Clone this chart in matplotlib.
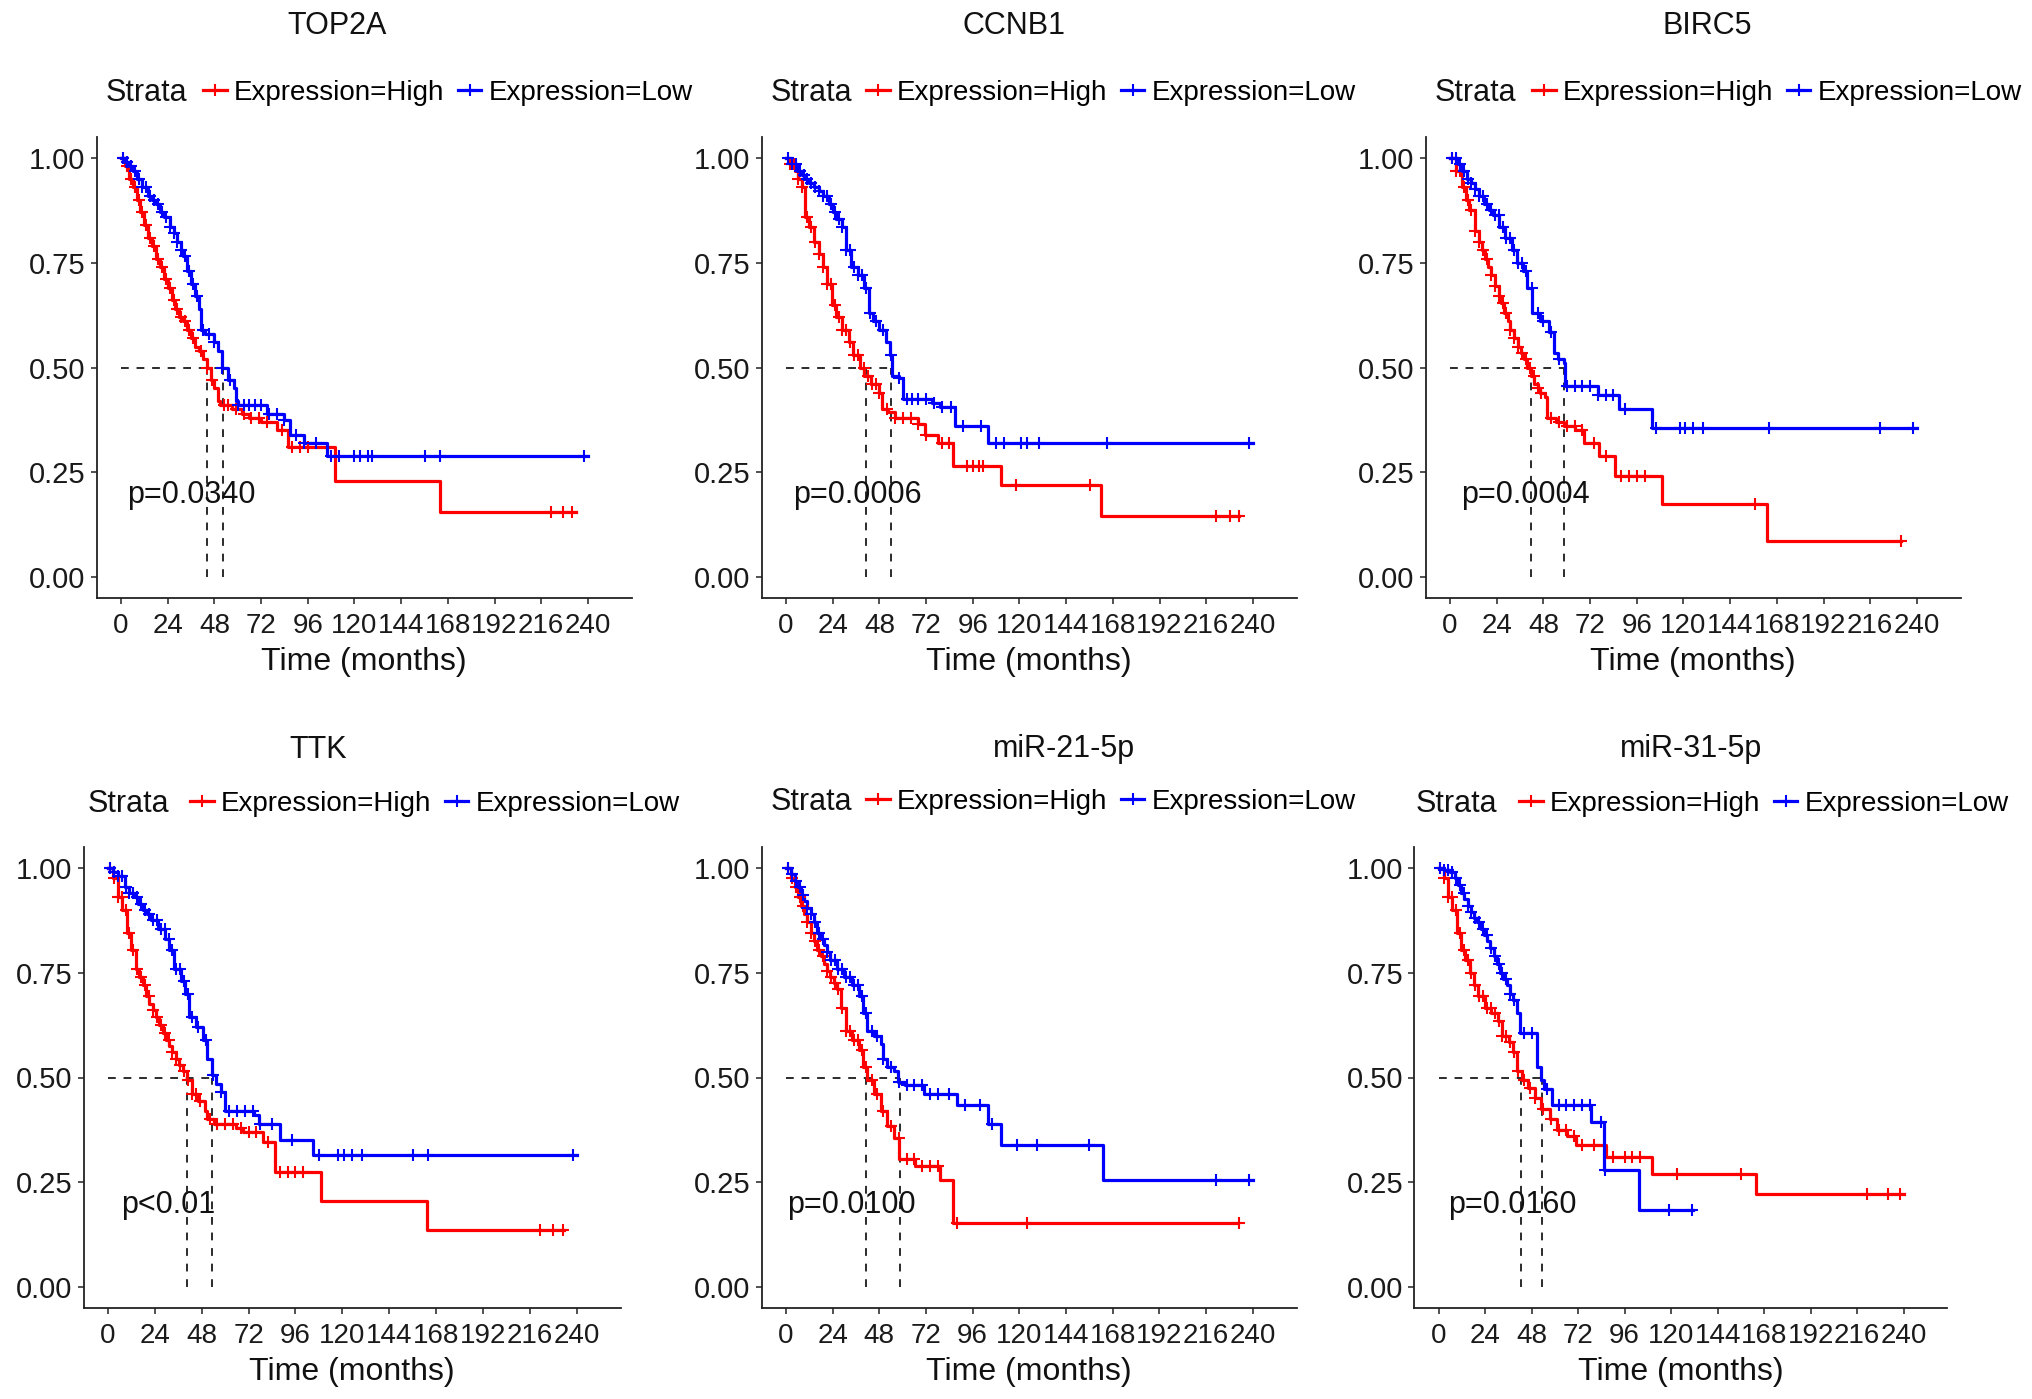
import numpy as np
import matplotlib
matplotlib.use("Agg")
import matplotlib.pyplot as plt
from matplotlib.lines import Line2D

plt.rcParams["font.family"] = ["Liberation Sans", "DejaVu Sans"]

W, H = 2032, 1399
RED = "#FF0000"
BLUE = "#0000FF"
DASH = "#2b2b2b"

# ---------------------------------------------------------------------------
# data
# ---------------------------------------------------------------------------
GENES = ["TOP2A", "CCNB1", "BIRC5", "TTK", "miR-21-5p", "miR-31-5p"]
P_TEXT = ["p=0.0340", "p=0.0006", "p=0.0004", "p<0.01", "p=0.0100", "p=0.0160"]
P_X = [3.0, 3.8, 5.8, 6.6, 0.4, 4.9]          # months, left edge of p label
MEDIAN_HIGH = [44.3, 41.3, 41.4, 40.6, 41.3, 42.5]
MEDIAN_LOW = [52.3, 54.0, 58.4, 53.4, 58.8, 53.3]
X_TICKS = list(range(0, 241, 24))
Y_TICKS = [0.0, 0.25, 0.5, 0.75, 1.0]
Y_TICKLABELS = ["0.00", "0.25", "0.50", "0.75", "1.00"]
LEGEND_LABELS = ["Expression=High", "Expression=Low"]

# TOP2A
TOP2A_HIGH_T = [0, 2, 4, 6, 8, 10, 12, 14, 16, 18, 20, 22, 24, 26, 28, 30, 32, 34, 36, 38,
                40, 42, 44, 46, 48, 50, 51, 57, 62, 66, 72, 80, 86, 110, 164, 234]
TOP2A_HIGH_S = [1.0, 0.98, 0.95, 0.93, 0.90, 0.87, 0.84, 0.81, 0.79, 0.76, 0.74, 0.71, 0.69,
                0.66, 0.64, 0.62, 0.61, 0.59, 0.57, 0.55, 0.54, 0.52, 0.50, 0.47, 0.45, 0.42,
                0.41, 0.40, 0.39, 0.38, 0.37, 0.35, 0.31, 0.23, 0.155, 0.155]
TOP2A_HIGH_CENS = [1, 3, 5, 7, 9, 11, 13, 15, 17, 19, 21, 23, 25, 27, 29, 31, 33, 35, 37, 41,
                   44, 47, 53, 55, 59, 63, 67, 71, 75, 83, 88, 92, 96, 221, 227, 232]
TOP2A_LOW_T = [0, 2, 4, 6, 8, 11, 14, 16, 18, 20, 22, 25, 27, 29, 31, 32, 34, 36, 38, 40, 41,
               43, 48, 50, 52, 55, 58, 59, 60, 75, 84, 87, 94, 106, 240]
TOP2A_LOW_S = [1.0, 0.99, 0.98, 0.97, 0.95, 0.93, 0.91, 0.90, 0.89, 0.87, 0.86, 0.835, 0.82,
               0.80, 0.78, 0.765, 0.73, 0.70, 0.67, 0.64, 0.59, 0.58, 0.56, 0.54, 0.50, 0.47,
               0.45, 0.42, 0.41, 0.39, 0.375, 0.34, 0.32, 0.29, 0.29]
TOP2A_LOW_CENS = [1, 3, 5, 7, 9, 11, 13, 15, 17, 19, 21, 23, 25, 27, 29, 31, 33, 35, 37, 39,
                  42, 45, 48, 52, 56, 60, 63, 66, 69, 72, 76, 80, 84, 90, 94, 100, 108, 112,
                  120, 123, 127, 129, 156, 164, 238]

# CCNB1
CCNB1_HIGH_T = [0, 2, 4.5, 6, 8, 10, 12, 14.5, 16.7, 19, 21, 23.4, 25.7, 29, 32.4, 34.6, 38,
                40.2, 43.5, 48, 49.1, 52.5, 55.8, 68, 71.4, 78, 86, 110.5, 162, 233]
CCNB1_HIGH_S = [1.0, 0.985, 0.97, 0.95, 0.93, 0.86, 0.835, 0.80, 0.77, 0.74, 0.70, 0.65, 0.62,
                0.59, 0.56, 0.53, 0.50, 0.48, 0.46, 0.44, 0.40, 0.395, 0.38, 0.365, 0.34, 0.32,
                0.265, 0.22, 0.145, 0.145]
CCNB1_HIGH_CENS = [2, 4, 6, 8, 11, 13, 15, 17, 19, 21, 23, 25, 27, 29, 31, 33, 35, 37, 40, 42,
                   44, 46, 48, 52, 56, 60, 64, 68, 72, 80, 84, 93, 96, 99, 101, 118, 156, 221,
                   228, 233]
CCNB1_LOW_T = [0, 3, 5.6, 8, 10, 12, 14.5, 17, 19, 22, 24, 25.7, 29, 31, 33.5, 36.8, 40, 42.4,
               44.7, 48, 51.4, 53.6, 54.7, 58, 60.3, 75, 79, 87, 104, 240]
CCNB1_LOW_S = [1.0, 0.985, 0.97, 0.96, 0.95, 0.94, 0.93, 0.92, 0.91, 0.89, 0.87, 0.855, 0.835,
               0.78, 0.74, 0.72, 0.69, 0.63, 0.61, 0.59, 0.56, 0.53, 0.48, 0.475, 0.425, 0.415,
               0.405, 0.36, 0.32, 0.32]
CCNB1_LOW_CENS = [1, 3, 5, 7, 9, 11, 13, 15, 17, 19, 21, 23, 25, 27, 29, 31, 33, 35, 37, 39,
                  41, 43, 46, 50, 54, 58, 62, 65, 68, 72, 76, 80, 85, 91, 100, 108, 112, 121,
                  124, 130, 165, 238]

# BIRC5
BIRC5_HIGH_T = [0, 3, 6, 8, 10, 13, 15, 16.3, 18, 19.7, 21, 23, 25, 26.4, 28, 29.7, 31, 33, 35,
                36.5, 38, 39.8, 41.5, 43.2, 45, 46.5, 48.8, 49.9, 54.4, 58.8, 64.4, 68.9, 76.7,
                84.6, 109.2, 162.9, 232]
BIRC5_HIGH_S = [1.0, 0.97, 0.93, 0.90, 0.875, 0.825, 0.80, 0.78, 0.76, 0.74, 0.72, 0.695, 0.67,
                0.655, 0.63, 0.61, 0.59, 0.57, 0.55, 0.535, 0.52, 0.50, 0.48, 0.46, 0.45, 0.44,
                0.43, 0.38, 0.37, 0.36, 0.35, 0.32, 0.29, 0.24, 0.175, 0.086, 0.086]
BIRC5_HIGH_CENS = [1, 3, 5, 7, 9, 11, 13, 15, 17, 19, 21, 23, 25, 27, 29, 31, 33, 35, 37, 39,
                   41, 43, 45, 47, 52, 56, 60, 64, 68, 74, 80, 88, 92, 96, 100, 157, 232]
BIRC5_LOW_T = [0, 4, 6, 8.5, 11, 13, 15, 17.4, 20, 21.9, 25.3, 28.2, 32, 34.2, 37.6, 39.8, 42.1,
               46.5, 51, 53.3, 55.5, 58.4, 58.9, 76, 87, 104, 240]
BIRC5_LOW_S = [1.0, 0.985, 0.97, 0.95, 0.94, 0.925, 0.91, 0.89, 0.875, 0.865, 0.835, 0.81, 0.78,
               0.75, 0.73, 0.69, 0.63, 0.61, 0.585, 0.535, 0.52, 0.51, 0.455, 0.435, 0.40, 0.355,
               0.355]
BIRC5_LOW_CENS = [1, 3, 5, 7, 9, 11, 13, 15, 17, 19, 21, 23, 25, 27, 29, 31, 33, 35, 37, 39,
                  42, 45, 48, 52, 56, 60, 64, 68, 72, 76, 80, 84, 90, 106, 118, 121, 125, 130,
                  164, 221, 238]

# TTK
TTK_HIGH_T = [0, 2.8, 5, 7.3, 9.6, 11.9, 14.2, 16, 17.7, 19.5, 21.1, 23, 24.5, 26, 28, 29.5,
              31.4, 33, 34.8, 36.5, 38.3, 40.6, 42.9, 46.3, 49.7, 50.9, 54.3, 65.8, 69.2, 79.5,
              85.3, 109.3, 163.2, 233.6]
TTK_HIGH_S = [1.0, 0.975, 0.93, 0.90, 0.845, 0.805, 0.76, 0.74, 0.72, 0.695, 0.675, 0.66, 0.645,
              0.625, 0.605, 0.59, 0.575, 0.56, 0.545, 0.53, 0.515, 0.495, 0.46, 0.445, 0.42,
              0.40, 0.39, 0.38, 0.37, 0.345, 0.275, 0.205, 0.137, 0.137]
TTK_HIGH_CENS = [1, 3, 5, 7, 9, 11, 13, 15, 17, 19, 21, 23, 25, 27, 29, 31, 33, 35, 37, 39, 41,
                 43, 45, 47, 52, 56, 60, 64, 68, 72, 76, 82, 88, 92, 96, 100, 221, 228, 233]
TTK_LOW_T = [0, 2.5, 5, 8.5, 11, 13.1, 15.5, 17.7, 20, 22.2, 25.7, 29.1, 31.4, 33.7, 37.2, 39.4,
             41.7, 45.2, 48.6, 50.9, 53.2, 55.5, 57.8, 60.1, 75, 77.4, 88.3, 104.8, 240]
TTK_LOW_S = [1.0, 0.99, 0.98, 0.955, 0.94, 0.93, 0.915, 0.90, 0.89, 0.875, 0.855, 0.83, 0.805,
             0.76, 0.73, 0.70, 0.645, 0.62, 0.59, 0.545, 0.505, 0.485, 0.465, 0.42, 0.41, 0.39,
             0.35, 0.315, 0.315]
TTK_LOW_CENS = [1, 3, 5, 7, 9, 11, 13, 15, 17, 19, 21, 23, 25, 27, 29, 31, 33, 35, 37, 39, 41,
                43, 46, 50, 54, 58, 62, 66, 70, 74, 78, 84, 94, 108, 118, 121, 125, 130, 156,
                164, 238]

# miR-21-5p
MIR21_HIGH_T = [0, 2.7, 4.5, 6.1, 8, 9.4, 11, 12.8, 14.5, 16.2, 18, 19.5, 21, 22.9, 24.5, 26.2,
                28.5, 30.7, 34.1, 37.5, 39.7, 41.9, 45.3, 48.7, 52, 55.4, 58.3, 66.6, 79, 85.7,
                232.5]
MIR21_HIGH_S = [1.0, 0.975, 0.955, 0.93, 0.91, 0.89, 0.87, 0.845, 0.825, 0.805, 0.79, 0.77,
                0.755, 0.74, 0.725, 0.71, 0.665, 0.61, 0.59, 0.565, 0.525, 0.495, 0.46, 0.42,
                0.385, 0.355, 0.305, 0.29, 0.255, 0.153, 0.153]
MIR21_HIGH_CENS = [1, 3, 5, 7, 9, 11, 13, 15, 17, 19, 21, 23, 25, 27, 29, 31, 33, 35, 37, 39,
                   41, 44, 47, 50, 54, 58, 62, 66, 70, 74, 78, 88, 124, 233]
MIR21_LOW_T = [0, 2.7, 4.5, 6.1, 8, 9.4, 11, 12.8, 14.5, 16.2, 18, 19.5, 21, 22.9, 26.2, 29.6,
               34.1, 37.5, 39.7, 41.9, 45.3, 48.7, 49.8, 52, 55.4, 57.7, 61, 71.1, 87.9, 104.1,
               110.4, 163.1, 240]
MIR21_LOW_S = [1.0, 0.985, 0.97, 0.955, 0.935, 0.92, 0.905, 0.89, 0.87, 0.845, 0.83, 0.815,
               0.80, 0.78, 0.76, 0.74, 0.72, 0.695, 0.655, 0.61, 0.60, 0.58, 0.545, 0.525, 0.515,
               0.49, 0.483, 0.46, 0.435, 0.39, 0.34, 0.255, 0.255]
MIR21_LOW_CENS = [1, 3, 5, 7, 9, 11, 13, 15, 17, 19, 21, 23, 25, 27, 29, 31, 33, 35, 37, 39,
                  41, 44, 47, 50, 54, 58, 62, 66, 70, 74, 78, 84, 92, 100, 106, 119, 129, 156,
                  221, 238]

# miR-31-5p
MIR31_HIGH_T = [0, 2.7, 4.9, 7.2, 9.4, 11.6, 13.9, 16.1, 18.4, 20.6, 24, 27.3, 30.7, 32.9, 36.3,
                38.5, 40.7, 43, 46.3, 49.7, 53.1, 57.5, 60.9, 66.5, 71, 86.6, 110.1, 163.9, 240]
MIR31_HIGH_S = [1.0, 0.975, 0.93, 0.90, 0.845, 0.805, 0.78, 0.75, 0.72, 0.695, 0.665, 0.655,
                0.635, 0.60, 0.585, 0.56, 0.515, 0.495, 0.475, 0.45, 0.425, 0.40, 0.375, 0.36,
                0.34, 0.31, 0.27, 0.222, 0.222]
MIR31_HIGH_CENS = [1, 3, 5, 7, 9, 11, 13, 15, 17, 19, 21, 23, 25, 27, 29, 31, 33, 35, 37, 39,
                   41, 44, 47, 50, 54, 58, 62, 66, 70, 74, 80, 90, 96, 100, 104, 123, 156, 221,
                   232, 238]
MIR31_LOW_T = [0, 3, 6, 8.3, 10, 11.6, 13.3, 15, 16.7, 18.4, 20, 21.7, 23.4, 25.1, 26.8, 28.4,
               30.1, 31.8, 33.5, 35.2, 36.8, 38.5, 40.7, 41.9, 50.8, 53.1, 54.2, 58.7, 78.8,
               85.5, 103.4, 131.4]
MIR31_LOW_S = [1.0, 0.995, 0.99, 0.975, 0.96, 0.94, 0.925, 0.91, 0.895, 0.88, 0.87, 0.855, 0.84,
               0.825, 0.81, 0.79, 0.77, 0.75, 0.735, 0.72, 0.70, 0.685, 0.655, 0.605, 0.525,
               0.495, 0.473, 0.435, 0.393, 0.28, 0.185, 0.185]
MIR31_LOW_CENS = [1, 3, 5, 7, 9, 11, 13, 15, 17, 19, 21, 23, 25, 27, 29, 31, 33, 35, 37, 39, 44,
                  48, 56, 62, 66, 70, 74, 78, 84, 86, 119, 131]

CURVES = [
    ((TOP2A_HIGH_T, TOP2A_HIGH_S, TOP2A_HIGH_CENS), (TOP2A_LOW_T, TOP2A_LOW_S, TOP2A_LOW_CENS)),
    ((CCNB1_HIGH_T, CCNB1_HIGH_S, CCNB1_HIGH_CENS), (CCNB1_LOW_T, CCNB1_LOW_S, CCNB1_LOW_CENS)),
    ((BIRC5_HIGH_T, BIRC5_HIGH_S, BIRC5_HIGH_CENS), (BIRC5_LOW_T, BIRC5_LOW_S, BIRC5_LOW_CENS)),
    ((TTK_HIGH_T, TTK_HIGH_S, TTK_HIGH_CENS), (TTK_LOW_T, TTK_LOW_S, TTK_LOW_CENS)),
    ((MIR21_HIGH_T, MIR21_HIGH_S, MIR21_HIGH_CENS), (MIR21_LOW_T, MIR21_LOW_S, MIR21_LOW_CENS)),
    ((MIR31_HIGH_T, MIR31_HIGH_S, MIR31_HIGH_CENS), (MIR31_LOW_T, MIR31_LOW_S, MIR31_LOW_CENS)),
]

# ---------------------------------------------------------------------------
# layout (pixel positions in the 2032x1399 canvas)
# ---------------------------------------------------------------------------
AX_LEFT = [96.7, 761.7, 1425.7, 83.6, 761.6, 1414.3]
AX_TOP = [137, 137, 137, 847, 847, 847]
AX_W = [535, 535, 535, 537, 535, 533]
AX_H = 461
TITLE_XY = [(337, 26), (1014, 26), (1707, 26), (318, 750), (1064, 749), (1691, 749)]
STRATA_XY = [(106, 93), (771, 93), (1435, 93), (88, 804), (771, 802), (1416, 804)]
LEG_X = [203, 866, 1532, 190, 866, 1519]


def fx(x):
    return x / W


def fy(y):
    return 1 - y / H


def step_value(t, s, c):
    idx = np.searchsorted(np.asarray(t), c, side="right") - 1
    return np.asarray(s)[np.clip(idx, 0, len(s) - 1)]


fig = plt.figure(figsize=(W / 100, H / 100), dpi=100)

for i, gene in enumerate(GENES):
    ax = fig.add_axes([fx(AX_LEFT[i]), fy(AX_TOP[i] + AX_H), AX_W[i] / W, AX_H / H])
    handles = []
    for (t, s, cens), color in zip(CURVES[i], (RED, BLUE)):
        ax.step(t, s, where="post", color=color, lw=2.3, zorder=3)
        ax.plot(cens, step_value(t, s, cens), ls="none", marker="+", ms=9, mew=1.5,
                color=color, zorder=4)
        handles.append(Line2D([], [], color=color, lw=2.3, marker="+", ms=9, mew=1.5))

    # median survival guides
    mh, ml = MEDIAN_HIGH[i], MEDIAN_LOW[i]
    ax.plot([0, max(mh, ml)], [0.5, 0.5], color=DASH, lw=1.4, ls=(0, (4, 4)), zorder=2)
    ax.vlines([mh, ml], 0, 0.5, color=DASH, lw=1.4, linestyles=[(0, (4, 4))], zorder=2)

    ax.text(P_X[i], 0.195, P_TEXT[i], ha="left", va="center", fontsize=22, color="#111111",
            zorder=5)

    ax.set_xlim(-12.5, 262.5)
    ax.set_ylim(-0.05, 1.05)
    ax.set_xticks(X_TICKS)
    ax.set_yticks(Y_TICKS)
    ax.set_yticklabels(Y_TICKLABELS)
    ax.tick_params(axis="x", labelsize=20, length=4, width=1.2, pad=6.5, colors="#333333",
                   labelcolor="#1a1a1a")
    ax.tick_params(axis="y", labelsize=21, length=4, width=1.2, pad=4, colors="#333333",
                   labelcolor="#1a1a1a")
    for sp in ("top", "right"):
        ax.spines[sp].set_visible(False)
    for sp in ("left", "bottom"):
        ax.spines[sp].set_linewidth(1.3)
        ax.spines[sp].set_color("#222222")
    ax.set_xlabel("Time (months)", fontsize=23, labelpad=6, color="#111111")

    # title and legend row
    tx, ty = TITLE_XY[i]
    fig.text(fx(tx), fy(ty), gene, ha="center", va="center", fontsize=22, color="#111111")
    sx, sy = STRATA_XY[i]
    fig.text(fx(sx), fy(sy), "Strata", ha="left", va="center", fontsize=22, color="#111111")
    ax.legend(handles, LEGEND_LABELS, loc="center left",
              bbox_to_anchor=(fx(LEG_X[i]), fy(sy)), bbox_transform=fig.transFigure,
              ncol=2, frameon=False, fontsize=20, handlelength=0.85, handletextpad=0.25,
              columnspacing=0.5, borderpad=0, borderaxespad=0)

fig.savefig("out.png", dpi=100)
